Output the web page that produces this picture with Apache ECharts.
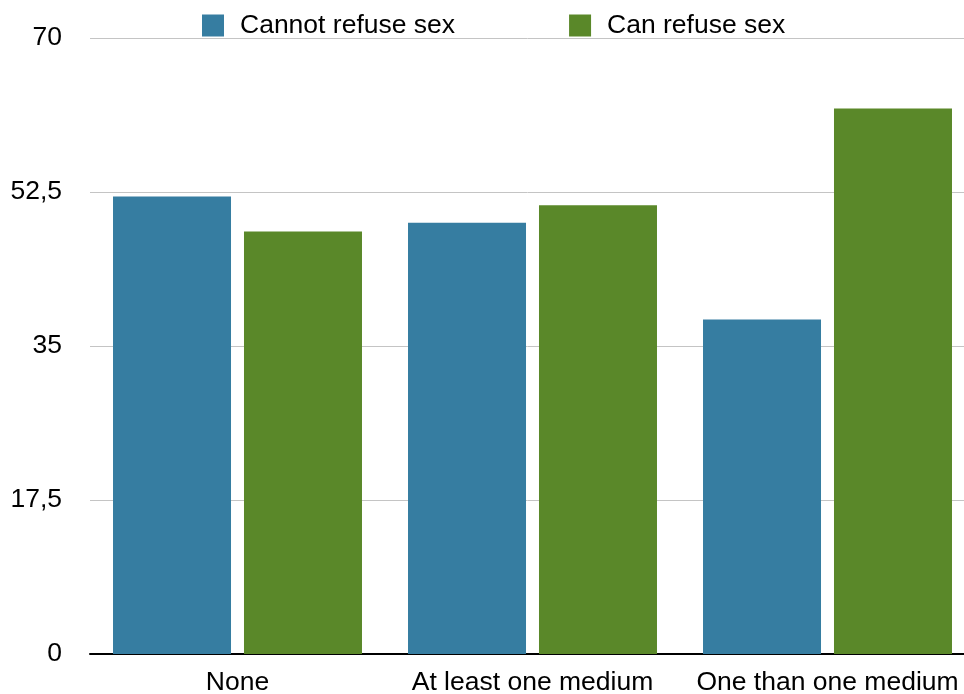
<!DOCTYPE html>
<html>
<head>
<meta charset="utf-8">
<script src="https://cdn.jsdelivr.net/npm/echarts@6/dist/echarts.min.js"></script>
<style>
html,body{margin:0;padding:0;background:#fff;}
#chart{width:964px;height:694px;}
</style>
</head>
<body>
<div id="chart"></div>
<script>
const categories = ["None", "At least one medium", "One than one medium"];
const seriesNames = ["Cannot refuse sex", "Can refuse sex"];
const cannotRefuse = [52, 49, 38];
const canRefuse = [48, 51, 62];
const colors = ["#367DA1", "#5A8829"];

const chart = echarts.init(document.getElementById('chart'));
const font = "'Liberation Sans', Helvetica, Arial, sans-serif";
const fs = 26.5;
chart.setOption({
  animation: false,
  color: colors,
  textStyle: { fontFamily: font },
  legend: {
    top: 12,
    left: 202,
    padding: 0,
    itemWidth: 22,
    itemHeight: 22,
    itemGap: 114,
    icon: 'rect',
    textStyle: { fontSize: fs, color: '#000', fontFamily: font, padding: [0, 0, 0, 11] },
    data: seriesNames
  },
  grid: { left: 90, width: 885, top: 38, bottom: 40, containLabel: false, outerBoundsMode: 'none' },
  xAxis: {
    type: 'category',
    data: categories,
    axisLine: { lineStyle: { color: '#000', width: 2 } },
    axisTick: { show: false },
    axisLabel: { fontSize: fs, color: '#000', margin: 15, interval: 0, fontFamily: font }
  },
  yAxis: {
    type: 'value',
    min: 0, max: 70, interval: 17.5,
    axisLine: { show: false },
    axisTick: { show: false },
    splitLine: { lineStyle: { color: '#C4C4C4', width: 1 } },
    axisLabel: {
      fontSize: fs, color: '#000', margin: 28, fontFamily: font,
      formatter: v => String(v).replace('.', ',')
    }
  },
  series: [
    { name: seriesNames[0], type: 'bar', data: cannotRefuse, barWidth: 118, barGap: '11%' },
    { name: seriesNames[1], type: 'bar', data: canRefuse, barWidth: 118, barGap: '11%' }
  ]
});
</script>
</body>
</html>
